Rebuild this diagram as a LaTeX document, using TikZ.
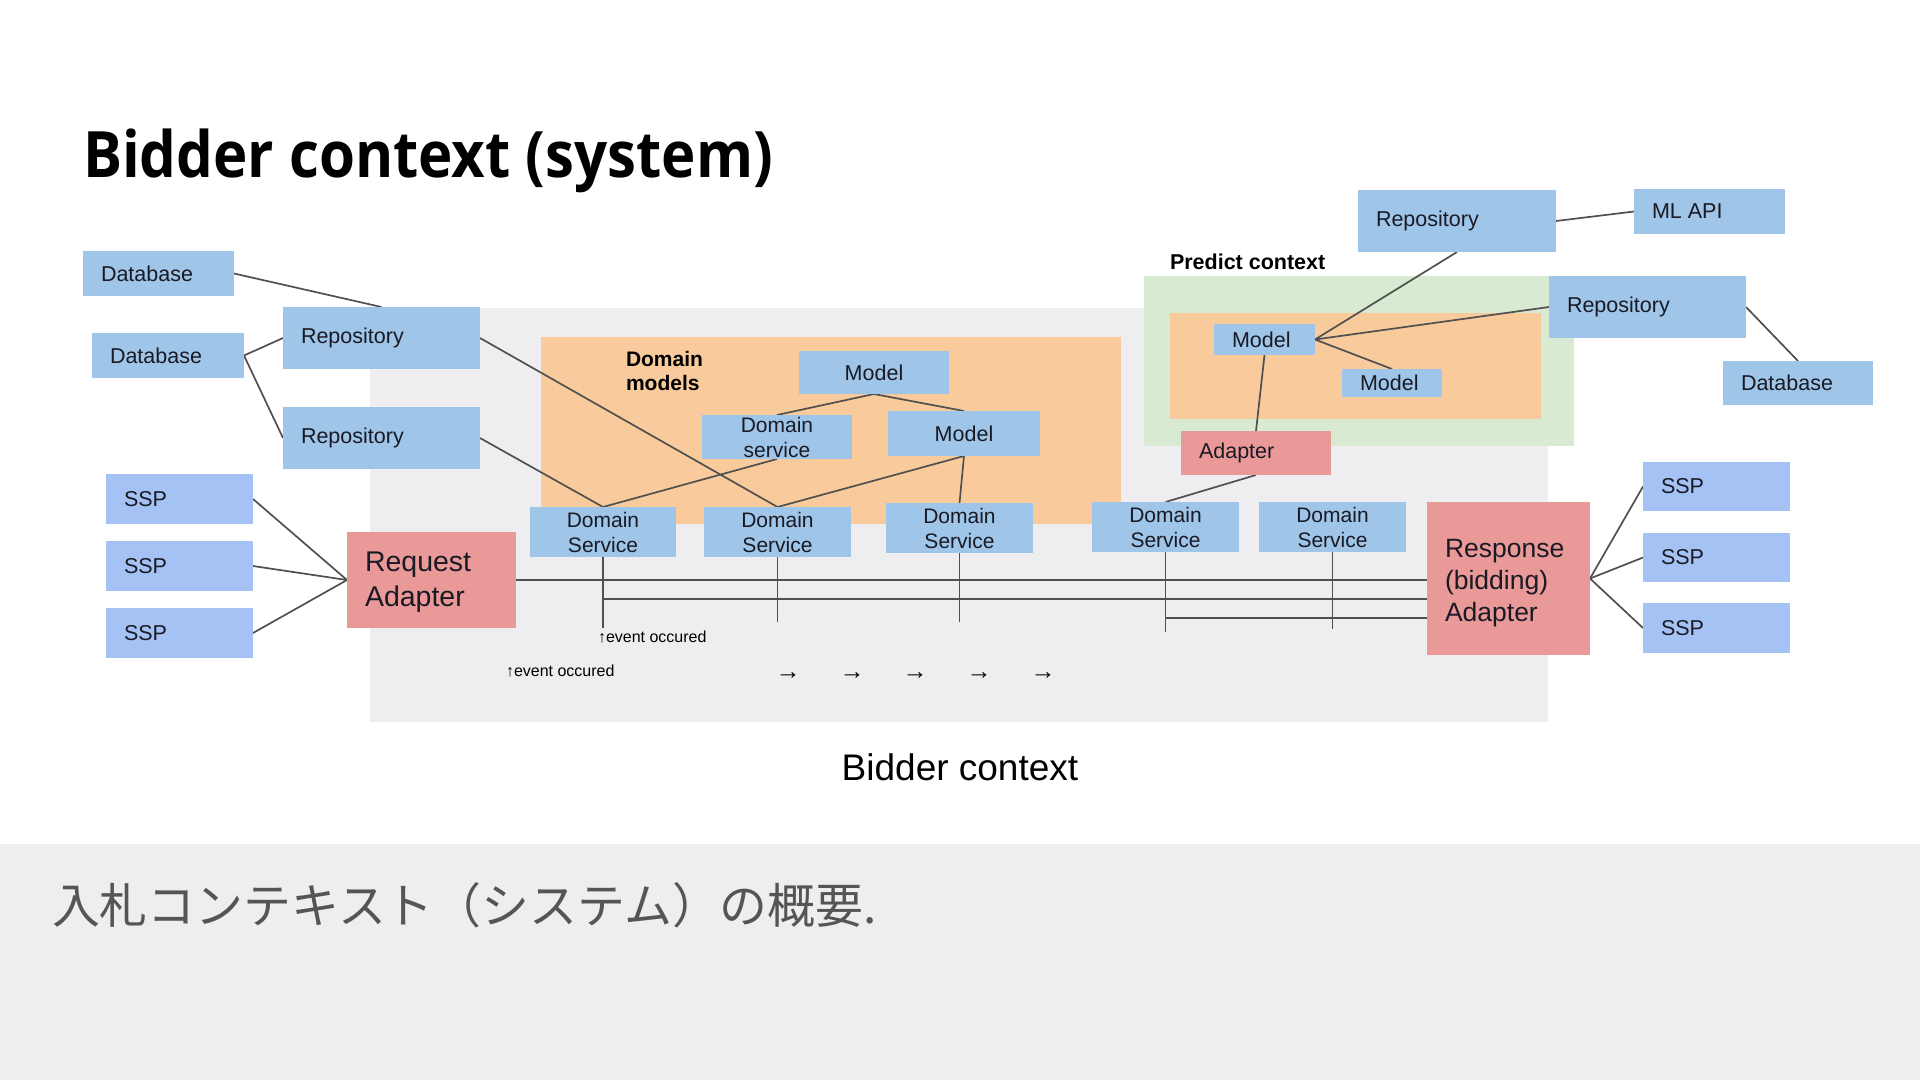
\documentclass[tikz,border=0pt]{standalone}
\usepackage{fontspec}
\usepackage{graphicx}
\setmainfont{Liberation Sans}
\newfontfamily\titlefont{Open Sans}
\newfontfamily\jpfont{Noto Sans CJK JP}
\definecolor{cblue}{HTML}{9FC5E8}
\definecolor{cssp}{HTML}{A4C2F4}
\definecolor{cred}{HTML}{EA9999}
\definecolor{corange}{HTML}{F9CB9C}
\definecolor{cgreen}{HTML}{D9EAD3}
\definecolor{cgray}{HTML}{EEEEF0}
\definecolor{cband}{HTML}{EEEEF0}
\definecolor{cline}{HTML}{505050}
\definecolor{ctext}{HTML}{1A1A24}
\definecolor{cjp}{HTML}{555555}
\pgfdeclarelayer{back}
\pgfdeclarelayer{bg}
\pgfsetlayers{back,bg,main}
\newcommand\mkL[7]{\node[#2, minimum width=#5pt, minimum height=#6pt] (#1) at (#3,#4) {\parbox{\dimexpr#5pt-36pt\relax}{\raggedright #7}};}
\newcommand\mkC[7]{\node[#2, minimum width=#5pt, minimum height=#6pt, align=center] (#1) at (#3,#4) {#7};}
\begin{document}
\begin{tikzpicture}[x=1pt,y=-1pt,
  every node/.style={inner sep=0pt, outer sep=0pt},
  blk/.style={fill=cblue, anchor=north west, text=ctext, font=\fontsize{21.5}{25}\selectfont},
  sspb/.style={blk, fill=cssp},
  redb/.style={blk, fill=cred},
  conn/.style={draw=cline, line width=1.7pt}]
\useasboundingbox (0,0) rectangle (1920,1080);
\begin{pgfonlayer}{back}
\fill[white] (0,0) rectangle (1920,1080);
\fill[cband] (0,844) rectangle (1920,1080);
\fill[cgray] (370,308) rectangle (1548,722);
\fill[corange] (541,337) rectangle (1121,524);
\fill[cgreen] (1144,276) rectangle (1574,446);
\fill[corange] (1170,313) rectangle (1541,419);
\end{pgfonlayer}

% title and captions
\node[anchor=base west] (title) at (83,177) {\scalebox{1}[1.1]{\resizebox{690pt}{!}{\titlefont\bfseries\fontsize{70}{80}\selectfont Bidder context (system)}}};
\node[anchor=west, text=cjp] (jp) at (52,905) {\resizebox{825pt}{!}{\jpfont\fontsize{46}{50}\selectfont 入札コンテキスト（システム）の概要.}};
\node[font=\fontsize{37}{40}\selectfont] (bctx) at (960,767) {Bidder context};
\node[anchor=north west, align=left, font=\bfseries\fontsize{21}{24}\selectfont] (dmlabel) at (626,351) {Domain\\models};
\node[anchor=west, font=\bfseries\fontsize{21.5}{24}\selectfont] (pclabel) at (1170,262) {Predict context};

% left side
\mkL{db1}{blk}{83}{251}{151}{45}{Database}
\mkL{repo1}{blk}{283}{307}{197}{62}{Repository}
\mkL{db2}{blk}{92}{333}{152}{45}{Database}
\mkL{repo2}{blk}{283}{407}{197}{62}{Repository}
\mkL{ssp1}{sspb}{106}{474}{147}{50}{SSP}
\mkL{ssp2}{sspb}{106}{541}{147}{50}{SSP}
\mkL{ssp3}{sspb}{106}{608}{147}{50}{SSP}
\mkL{req}{redb,font=\fontsize{28.5}{35}\selectfont}{347}{532}{169}{96}{\vspace*{4pt}Request\\Adapter}

% domain models
\mkC{model1}{blk}{799}{351}{150}{43}{Model}
\mkC{dsvc}{blk,font=\fontsize{21}{25}\selectfont}{702}{415}{150}{44}{Domain\\service}
\mkC{model2}{blk}{888}{411}{152}{45}{Model}

% domain services
\mkC{ds1}{blk,font=\fontsize{21}{25}\selectfont}{530}{507}{146}{50}{Domain\\Service}
\mkC{ds2}{blk,font=\fontsize{21}{25}\selectfont}{704}{507}{147}{50}{Domain\\Service}
\mkC{ds3}{blk,font=\fontsize{21}{25}\selectfont}{886}{503}{147}{50}{Domain\\Service}
\mkC{ds4}{blk,font=\fontsize{21}{25}\selectfont}{1092}{502}{147}{50}{Domain\\Service}
\mkC{ds5}{blk,font=\fontsize{21}{25}\selectfont}{1259}{502}{147}{50}{Domain\\Service}

% predict side
\mkL{repoT}{blk}{1358}{190}{198}{62}{Repository}
\mkL{mlapi}{blk}{1634}{189}{151}{45}{ML API}
\mkL{repoR}{blk}{1549}{276}{197}{62}{Repository}
\mkL{dbR}{blk}{1723}{361}{150}{44}{Database}
\mkL{pm1}{blk}{1214}{324}{101}{31}{Model}
\mkL{pm2}{blk}{1342}{369}{100}{28}{Model}
\mkL{adapter}{redb}{1181}{431}{150}{44}{Adapter}

% response side
\mkL{resp}{redb,font=\fontsize{26.5}{32}\selectfont}{1427}{502}{163}{153}{\vspace*{10pt}Response\\(bidding)\\Adapter}
\mkL{sspR1}{sspb}{1643}{462}{147}{49}{SSP}
\mkL{sspR2}{sspb}{1643}{533}{147}{49}{SSP}
\mkL{sspR3}{sspb}{1643}{603}{147}{50}{SSP}

% event labels and arrows
\node[anchor=west, font=\fontsize{16}{18}\selectfont] (ev1) at (598,637) {↑event occured};
\node[anchor=west, font=\fontsize{16}{18}\selectfont] (ev2) at (506,671) {↑event occured};
\foreach \i/\x in {1/788,2/852,3/915,4/979,5/1043}{
  \node[font=\fontsize{25}{25}\selectfont] (arr\i) at (\x,676) {→};
}

\coordinate (y2) at (0,599);
\coordinate (y3) at (0,618);

\begin{pgfonlayer}{bg}
\draw[conn] (db1.east) -- (repo1.north);
\draw[conn] (db2.east) -- (repo1.west);
\draw[conn] (db2.east) -- (repo2.west);
\draw[conn] (repo1.east) -- (ds2.north);
\draw[conn] (repo2.east) -- (ds1.north);
\draw[conn] (ssp1.east) -- (req.west);
\draw[conn] (ssp2.east) -- (req.west);
\draw[conn] (ssp3.east) -- (req.west);
\draw[conn] (model1.south) -- (dsvc.north);
\draw[conn] (model1.south) -- (model2.north);
\draw[conn] (dsvc.south) -- (ds1.north);
\draw[conn] (model2.south) -- (ds2.north);
\draw[conn] (model2.south) -- (ds3.north);
\draw[conn] (repoT.east) -- (mlapi.west);
\draw[conn] (repoT.south) -- (pm1.east);
\draw[conn] (repoR.west) -- (pm1.east);
\draw[conn] (pm1.east) -- (pm2.north);
\draw[conn] (repoR.east) -- (dbR.north);
\draw[conn] (pm1.south) -- (adapter.north);
\draw[conn] (adapter.south) -- (ds4.north);
\draw[conn] (resp.east) -- (sspR1.west);
\draw[conn] (resp.east) -- (sspR2.west);
\draw[conn] (resp.east) -- (sspR3.west);
% event bus
\draw[conn] (req.east) -- (req.east -| resp.west);
\draw[conn] (ds1.south |- y2) -- (resp.west |- y2);
\draw[conn] (ds4.south |- y3) -- (resp.west |- y3);
\draw[conn] (ds1.south) -- ([yshift=-71pt]ds1.south);
\draw[conn] (ds2.south) -- ([yshift=-65pt]ds2.south);
\draw[conn] (ds3.south) -- ([yshift=-69pt]ds3.south);
\draw[conn] (ds4.south) -- ([yshift=-80pt]ds4.south);
\draw[conn] (ds5.south) -- ([yshift=-77pt]ds5.south);
\end{pgfonlayer}
\end{tikzpicture}
\end{document}
